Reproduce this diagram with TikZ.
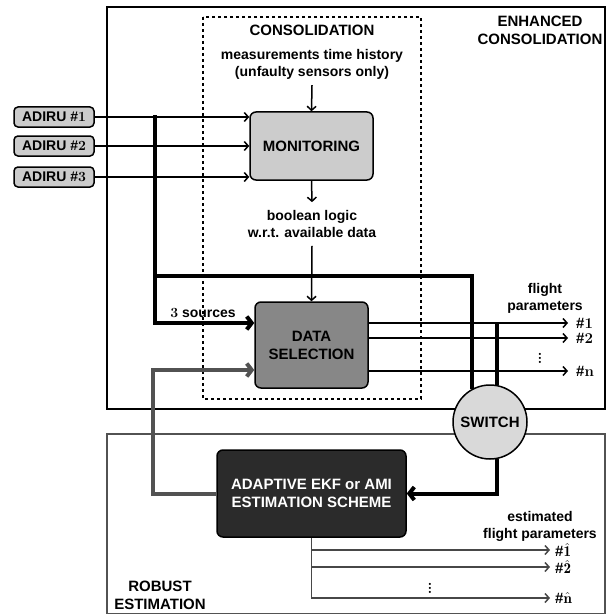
\documentclass[tikz,border=0pt]{standalone}
\usepackage{fontspec}
\setsansfont{Liberation Sans}
\usetikzlibrary{arrows.meta}

\tikzset{
	lbl/.style={font=\sffamily\bfseries\fontsize{14}{17}\selectfont, align=center, inner sep=2pt},
	caps/.style={font=\sffamily\bfseries\fontsize{15}{18}\selectfont, align=center, inner sep=2pt},
	adirubox/.style={lbl, draw, line width=1.5pt, rounded corners=4pt, fill=black!20, minimum width=80pt, minimum height=20pt, inner sep=1pt},
	blockbox/.style={caps, draw, line width=1.5pt, rounded corners=6pt},
	outl/.style={caps, anchor=west, inner xsep=8pt, inner ysep=0pt},
	sig/.style={line width=1.5pt, -{Straight Barb[length=4pt,width=9pt]}},
	busline/.style={line width=4pt},
	bus/.style={busline, -{Straight Barb[length=5pt,width=13pt]}},
	feed/.style={line width=4pt, black!68, -{Straight Barb[length=5pt,width=13pt]}},
	esig/.style={line width=1.5pt, black!72, -{Straight Barb[length=4pt,width=9pt]}}
}

\begin{document}
\begin{tikzpicture}[x=1pt,y=-1pt]
	\useasboundingbox (0,0) rectangle (607,615);

	% frames
	\draw[line width=2pt] (107,7) rectangle (605,409);
	\draw[line width=1.5pt, black!68] (107,434) rectangle (605,613.5);
	\draw[line width=2pt, dash pattern=on 3pt off 3pt] (203,17) rectangle (421,399);

	% titles and texts
	\node[caps] (enhT) at (540,30) {ENHANCED\\CONSOLIDATION};
	\node[caps] (consT) at (312,30) {CONSOLIDATION};
	\node[caps] (robT) at (160,595) {ROBUST\\ESTIMATION};
	\node[lbl, inner sep=6pt] (meas) at (312,64) {measurements time history\\(unfaulty sensors only)};
	\node[lbl, inner sep=8pt] (bool) at (312,224) {boolean logic\\w.r.t. available data};
	\node[lbl] (src) at (203,313) {{\rmfamily 3} sources};
	\node[lbl] (fpar) at (545,298) {flight\\parameters};
	\node[lbl] (efpar) at (540,526) {estimated\\flight parameters};

	% blocks
	\node[blockbox, fill=black!20, minimum width=123pt, minimum height=68pt] (mon) at (311.5,146) {MONITORING};
	\node[blockbox, fill=black!47, minimum width=113pt, minimum height=86pt] (dsel) at (311.5,345) {DATA\\SELECTION};
	\node[blockbox, fill=black!83, text=white, minimum width=189pt, minimum height=87pt] (ada) at (311.5,493.5) {ADAPTIVE EKF or AMI\\ESTIMATION SCHEME};
	\node[caps, draw, circle, fill=black!15, line width=1.5pt, minimum size=74pt, inner sep=0pt] (sw) at (490,422) {SWITCH};

	\node[adirubox] (adiru1) at (54,117) {ADIRU \#{\rmfamily 1}};
	\node[adirubox] (adiru2) at (54,146) {ADIRU \#{\rmfamily 2}};
	\node[adirubox] (adiru3) at (54,177) {ADIRU \#{\rmfamily 3}};

	% outputs
	\node[outl] (o1) at (568,323) {\#{\rmfamily 1}};
	\node[outl] (o2) at (568,338) {\#{\rmfamily 2}};
	\node[outl] (on) at (568,371) {\#{\rmfamily n}};
	\node[caps] (dots1) at (540,355) {\rmfamily$\vdots$};
	\node[outl, inner xsep=5pt] (e1) at (550,550) {\#{\rmfamily$\hat{\mathbf{1}}$}};
	\node[outl, inner xsep=5pt] (e2) at (550,567) {\#{\rmfamily$\hat{\mathbf{2}}$}};
	\node[outl, inner xsep=5pt] (en) at (550,598) {\#{\rmfamily$\hat{\mathbf{n}}$}};
	\node[caps] (dots2) at (430,585) {\rmfamily$\vdots$};

	\coordinate (busTop) at (155,115.5);
	\coordinate (busBot) at (155,323);
	\coordinate (busMid) at (155,276);
	\coordinate (fbc) at (153,370);

	% connectors
	\draw[sig] (adiru1.east) -- (adiru1 -| mon.west);
	\draw[sig] (adiru2.east) -- (adiru2 -| mon.west);
	\draw[sig] (adiru3.east) -- (adiru3 -| mon.west);
	\draw[sig] (meas.south) -- (mon.north);
	\draw[sig] (mon.south) -- (bool.north);
	\draw[sig] (bool.south) -- (dsel.north);

	\draw[bus] (busTop) |- (dsel.west |- busBot);
	\draw[busline] (busMid) -| (sw.118);
	\draw[busline] (o1.west -| sw.79) -- (sw.79);
	\draw[bus] (sw.-79) |- (ada.east);
	\draw[feed] (ada.west) -| (fbc) -- (dsel.west |- fbc);

	\draw[sig] (dsel.east |- o1) -- (o1.west);
	\draw[sig] (dsel.east |- o2) -- (o2.west);
	\draw[sig] (dsel.east |- on) -- (on.west);

	\draw[esig] (ada.south) |- (en.west);
	\draw[esig] (ada.south |- e1) -- (e1.west);
	\draw[esig] (ada.south |- e2) -- (e2.west);
\end{tikzpicture}
\end{document}
